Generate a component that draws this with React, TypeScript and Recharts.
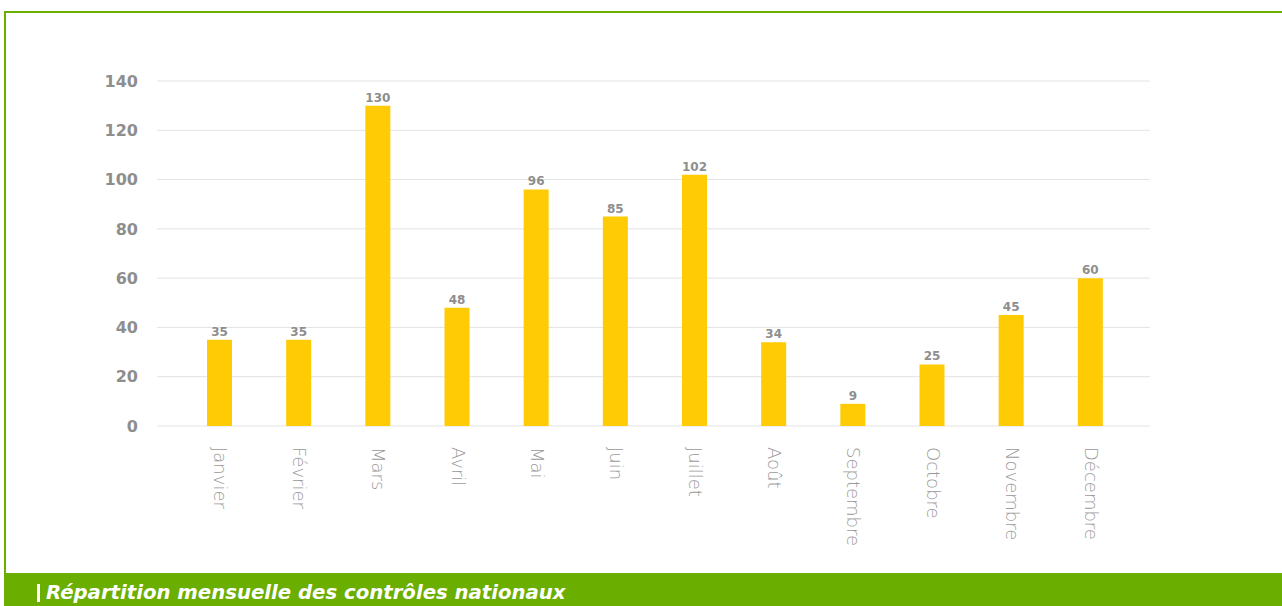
import { BarChart, Bar, XAxis, YAxis, CartesianGrid, LabelList } from "recharts";

const months = [
  "Janvier",
  "Février",
  "Mars",
  "Avril",
  "Mai",
  "Juin",
  "Juillet",
  "Août",
  "Septembre",
  "Octobre",
  "Novembre",
  "Décembre",
];
const controles = [35, 35, 130, 48, 96, 85, 102, 34, 9, 25, 45, 60];
const yTicks = [0, 20, 40, 60, 80, 100, 120, 140];

const data = months.map((m, i) => ({ mois: m, controles: controles[i] }));

const GREEN = "#6AAE00";
const YELLOW = "#FFCB05";

const MonthTick = (props: any) => {
  const { x, y, payload } = props;
  return (
    <text
      x={x}
      y={y}
      transform={`rotate(90, ${x}, ${y})`}
      textAnchor="start"
      dominantBaseline="central"
      dy={-1}
      fill="#999999"
      fontSize={18}
      fontWeight={200}
      fontFamily="DejaVu Sans"
    >
      {payload.value}
    </text>
  );
};

const App = () => {
  return (
    <div
      style={{
        position: "absolute",
        left: 0,
        top: 0,
        width: 1282,
        height: 606,
        background: "#fff",
        overflow: "hidden",
      }}
    >
      <div
        style={{
          position: "absolute",
          left: 4,
          top: 11,
          width: 1278,
          height: 562,
          borderTop: `2px solid ${GREEN}`,
          borderLeft: `2px solid ${GREEN}`,
          boxSizing: "border-box",
        }}
      />
      <div style={{ position: "absolute", left: 0, top: 0 }}>
        <BarChart
          width={1282}
          height={573}
          data={data}
          margin={{ top: 81, right: 132, bottom: 0, left: 0 }}
        >
          <CartesianGrid vertical={false} stroke="#e3e3e3" strokeWidth={1} />
          <XAxis
            dataKey="mois"
            height={147}
            axisLine={false}
            tickLine={false}
            tickSize={6}
            tickMargin={15}
            interval={0}
            padding={{ left: 23, right: 20 }}
            tick={<MonthTick />}
          />
          <YAxis
            width={157}
            domain={[0, 140]}
            ticks={yTicks}
            axisLine={false}
            tickLine={false}
            tickSize={6}
            tickMargin={13}
            tick={{
              fill: "#8e8e8e",
              fontSize: 16,
              fontWeight: 700,
              fontFamily: "DejaVu Sans",
            }}
          />
          <Bar dataKey="controles" fill={YELLOW} barSize={25} isAnimationActive={false}>
            <LabelList
              dataKey="controles"
              position="top"
              offset={4}
              fill="#8e8e8e"
              fontSize={12}
              fontWeight={700}
              fontFamily="DejaVu Sans"
            />
          </Bar>
        </BarChart>
      </div>
      <div
        style={{
          position: "absolute",
          left: 4,
          top: 573,
          width: 1278,
          height: 33,
          background: GREEN,
        }}
      />
      <div
        style={{
          position: "absolute",
          left: 37,
          top: 584,
          width: 3,
          height: 18,
          background: "#fff",
        }}
      />
      <div
        style={{
          position: "absolute",
          left: 46,
          top: 581,
          color: "#fff",
          fontFamily: "DejaVu Sans",
          fontStyle: "italic",
          fontWeight: 700,
          fontSize: 19.7,
          lineHeight: "24px",
          whiteSpace: "nowrap",
        }}
      >
        Répartition mensuelle des contrôles nationaux
      </div>
    </div>
  );
};

export default App;
